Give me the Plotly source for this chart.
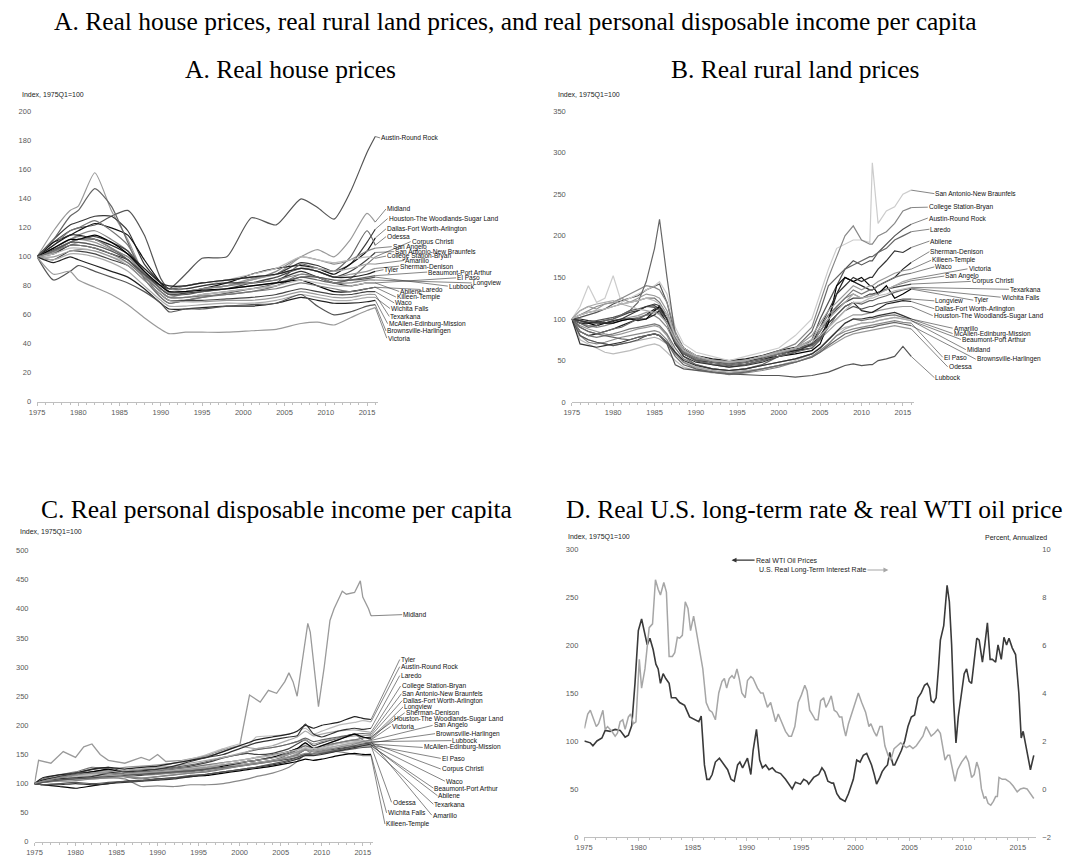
import plotly.graph_objects as go

W, H = 1073, 863

METROS = [
    "Austin-Round Rock", "Midland", "Houston-The Woodlands-Sugar Land",
    "Dallas-Fort Worth-Arlington", "Odessa", "Corpus Christi", "San Angelo",
    "San Antonio-New Braunfels", "College Station-Bryan", "Amarillo",
    "Sherman-Denison", "Tyler", "Beaumont-Port Arthur", "El Paso", "Longview",
    "Lubbock", "Laredo", "Abilene", "Killeen-Temple", "Waco", "Wichita Falls",
    "Texarkana", "McAllen-Edinburg-Mission", "Brownsville-Harlingen", "Victoria",
]

X_TICKS = [1975, 1980, 1985, 1990, 1995, 2000, 2005, 2010, 2015]

# ---------------- Panel A: real house prices (index, 1975Q1=100) ----------------
HOUSE_YEARS = [1975, 1977, 1979, 1980, 1982, 1984, 1986, 1988, 1990, 1991, 1993,
               1995, 1998, 2001, 2004, 2007, 2009, 2011, 2013, 2015, 2016]
HOUSE = {
    "Austin-Round Rock": [100, 110, 118, 120, 122, 128, 132, 115, 85, 78, 88, 99, 100, 127, 122, 140, 134, 126, 145, 172, 183],
    "Midland": [100, 118, 132, 135, 158, 132, 112, 88, 76, 72, 75, 78, 80, 85, 88, 100, 105, 100, 112, 130, 124],
    "Houston-The Woodlands-Sugar Land": [100, 112, 122, 124, 128, 128, 118, 95, 82, 78, 80, 82, 84, 86, 88, 96, 94, 90, 95, 110, 119],
    "Dallas-Fort Worth-Arlington": [100, 110, 115, 118, 123, 120, 115, 98, 82, 76, 76, 78, 82, 88, 92, 94, 92, 88, 95, 104, 113],
    "Odessa": [100, 112, 128, 132, 147, 135, 110, 85, 72, 68, 70, 72, 75, 78, 82, 95, 92, 90, 100, 118, 108],
    "Corpus Christi": [100, 108, 118, 120, 125, 118, 108, 88, 72, 68, 70, 72, 74, 76, 80, 88, 86, 82, 85, 95, 100],
    "San Angelo": [100, 106, 112, 115, 118, 112, 104, 90, 78, 75, 76, 78, 80, 84, 90, 100, 98, 95, 98, 104, 106],
    "San Antonio-New Braunfels": [100, 105, 110, 112, 114, 110, 104, 90, 78, 74, 75, 76, 78, 82, 86, 92, 90, 86, 90, 98, 103],
    "College Station-Bryan": [100, 104, 110, 112, 112, 108, 102, 90, 80, 76, 78, 80, 84, 88, 92, 100, 98, 96, 98, 100, 99],
    "Amarillo": [100, 103, 108, 110, 108, 104, 98, 88, 80, 78, 80, 82, 84, 86, 88, 92, 92, 90, 92, 95, 95],
    "Sherman-Denison": [100, 103, 110, 112, 110, 105, 100, 88, 78, 75, 76, 78, 80, 84, 88, 92, 90, 86, 88, 90, 92],
    "Tyler": [100, 108, 115, 115, 112, 108, 102, 92, 82, 80, 80, 82, 84, 86, 88, 92, 90, 86, 86, 88, 90],
    "Beaumont-Port Arthur": [100, 104, 110, 112, 112, 106, 98, 86, 76, 72, 72, 74, 76, 78, 80, 86, 84, 82, 84, 86, 87],
    "El Paso": [100, 102, 108, 108, 106, 102, 98, 88, 80, 78, 78, 80, 82, 82, 84, 90, 86, 82, 80, 82, 82],
    "Longview": [100, 106, 112, 114, 112, 106, 100, 90, 80, 76, 76, 78, 80, 82, 84, 88, 86, 82, 82, 84, 84],
    "Lubbock": [100, 104, 110, 110, 108, 104, 98, 88, 78, 74, 74, 76, 78, 80, 82, 86, 86, 84, 84, 85, 86],
    "Laredo": [100, 106, 112, 112, 115, 110, 102, 90, 80, 76, 76, 77, 78, 80, 82, 84, 80, 76, 76, 78, 79],
    "Abilene": [100, 102, 106, 106, 104, 100, 96, 86, 76, 72, 72, 74, 76, 78, 80, 84, 82, 80, 80, 82, 82],
    "Killeen-Temple": [100, 104, 108, 108, 106, 102, 96, 86, 76, 72, 72, 73, 74, 76, 78, 82, 80, 78, 76, 78, 79],
    "Waco": [100, 98, 104, 104, 102, 98, 94, 84, 74, 70, 70, 70, 71, 72, 74, 78, 76, 74, 74, 76, 76],
    "Wichita Falls": [100, 98, 102, 102, 100, 96, 90, 80, 70, 66, 66, 67, 68, 68, 70, 74, 72, 70, 70, 72, 72],
    "Texarkana": [100, 100, 104, 105, 104, 100, 94, 84, 74, 70, 69, 69, 70, 70, 72, 76, 74, 72, 72, 74, 74],
    "McAllen-Edinburg-Mission": [100, 96, 100, 98, 94, 90, 86, 78, 68, 64, 64, 65, 66, 66, 68, 72, 70, 68, 68, 69, 70],
    "Brownsville-Harlingen": [100, 84, 90, 94, 90, 86, 82, 76, 68, 62, 64, 64, 66, 67, 68, 74, 66, 60, 62, 66, 67],
    "Victoria": [100, 88, 90, 84, 79, 74, 67, 58, 50, 47, 48, 48, 48, 49, 50, 54, 55, 53, 58, 63, 65],
}

# ---------------- Panel B: real rural land prices (index, 1975Q1=100) ----------------
LAND_YEARS = [1975, 1976, 1977, 1978, 1979, 1980, 1981, 1982, 1983, 1984, 1985, 1985.6,
              1986.5, 1987.5, 1988.5, 1990, 1992, 1994, 1996, 1998, 2000, 2002, 2004,
              2005, 2006, 2007, 2008, 2009, 2010, 2011, 2011.3, 2012, 2013, 2014, 2015, 2016]
LAND = {
    "San Antonio-New Braunfels": [100, 115, 140, 120, 125, 152, 120, 125, 130, 135, 140, 145, 130, 90, 70, 60, 55, 50, 55, 60, 65, 80, 100, 130, 160, 185, 190, 195, 195, 192, 288, 215, 230, 235, 250, 255],
    "College Station-Bryan": [100, 105, 110, 115, 118, 120, 125, 130, 135, 140, 138, 135, 120, 85, 65, 55, 50, 48, 50, 55, 62, 70, 90, 120, 150, 175, 200, 212, 195, 190, 190, 200, 205, 215, 230, 234],
    "Austin-Round Rock": [100, 102, 105, 108, 112, 118, 122, 125, 128, 135, 140, 142, 120, 80, 60, 50, 45, 42, 45, 50, 55, 60, 75, 100, 120, 140, 160, 170, 165, 170, 170, 180, 190, 200, 208, 214],
    "Laredo": [100, 95, 90, 92, 98, 100, 105, 110, 120, 145, 185, 220, 150, 80, 55, 45, 40, 38, 40, 45, 55, 65, 85, 110, 140, 150, 160, 165, 170, 175, 175, 180, 185, 195, 200, 205],
    "Abilene": [100, 98, 96, 95, 95, 98, 100, 105, 110, 115, 118, 116, 100, 70, 55, 48, 45, 42, 44, 48, 55, 60, 70, 90, 110, 130, 140, 150, 145, 150, 150, 160, 170, 182, 180, 186],
    "Sherman-Denison": [100, 100, 98, 97, 95, 97, 100, 100, 98, 100, 105, 110, 95, 70, 58, 50, 48, 45, 48, 52, 58, 62, 65, 75, 100, 130, 150, 145, 140, 135, 135, 140, 145, 150, 160, 168],
    "Killeen-Temple": [100, 110, 115, 112, 118, 120, 125, 120, 125, 130, 128, 125, 110, 80, 62, 55, 50, 48, 50, 55, 58, 65, 80, 95, 110, 120, 130, 140, 135, 140, 140, 145, 150, 155, 158, 160],
    "Waco": [100, 105, 108, 110, 112, 115, 118, 120, 122, 125, 125, 120, 105, 75, 60, 52, 48, 45, 48, 52, 58, 65, 75, 90, 105, 115, 125, 135, 130, 135, 135, 140, 145, 150, 153, 155],
    "Victoria": [100, 110, 115, 118, 120, 122, 118, 115, 112, 110, 108, 105, 95, 75, 62, 55, 50, 48, 50, 55, 60, 65, 75, 90, 100, 110, 120, 130, 125, 128, 128, 130, 135, 140, 145, 148],
    "San Angelo": [100, 95, 92, 90, 92, 95, 98, 100, 102, 105, 104, 100, 90, 70, 58, 52, 48, 46, 48, 52, 58, 62, 70, 85, 100, 115, 125, 130, 125, 128, 128, 132, 135, 140, 143, 146],
    "Corpus Christi": [100, 98, 95, 96, 98, 100, 104, 108, 110, 115, 116, 112, 100, 75, 60, 52, 48, 46, 48, 52, 58, 62, 70, 85, 100, 112, 120, 125, 125, 130, 130, 132, 136, 138, 140, 142],
    "Texarkana": [100, 105, 108, 110, 112, 115, 118, 120, 122, 125, 122, 118, 105, 80, 65, 56, 50, 48, 50, 55, 60, 65, 72, 80, 90, 100, 110, 120, 120, 125, 125, 128, 130, 134, 136, 138],
    "Wichita Falls": [100, 90, 85, 82, 85, 88, 90, 95, 100, 105, 108, 106, 95, 72, 58, 50, 46, 44, 46, 50, 55, 60, 65, 75, 90, 105, 115, 120, 118, 122, 122, 125, 128, 132, 135, 137],
    "Tyler": [100, 95, 95, 92, 95, 95, 98, 100, 100, 100, 110, 115, 100, 80, 65, 55, 50, 48, 50, 52, 55, 58, 62, 70, 95, 140, 150, 145, 150, 140, 140, 130, 140, 125, 130, 136],
    "Longview": [100, 98, 96, 98, 100, 102, 105, 110, 112, 115, 114, 110, 100, 78, 62, 54, 50, 48, 50, 54, 60, 64, 68, 78, 90, 100, 110, 115, 112, 115, 115, 118, 120, 122, 124, 124],
    "Dallas-Fort Worth-Arlington": [100, 85, 80, 82, 85, 88, 92, 96, 100, 105, 112, 115, 105, 80, 65, 56, 52, 50, 52, 56, 62, 66, 70, 80, 95, 105, 115, 120, 110, 108, 108, 112, 118, 120, 122, 121],
    "Houston-The Woodlands-Sugar Land": [100, 95, 92, 92, 95, 98, 100, 102, 104, 108, 110, 108, 95, 72, 60, 52, 48, 46, 48, 52, 58, 62, 68, 76, 85, 95, 100, 105, 105, 108, 108, 110, 112, 114, 115, 115],
    "Amarillo": [100, 85, 80, 78, 80, 82, 85, 88, 90, 92, 94, 92, 82, 65, 52, 45, 40, 38, 40, 44, 48, 52, 58, 65, 75, 85, 95, 100, 98, 100, 100, 102, 104, 105, 102, 100],
    "McAllen-Edinburg-Mission": [100, 70, 68, 66, 68, 70, 72, 75, 78, 80, 82, 80, 72, 60, 50, 44, 40, 38, 40, 44, 48, 52, 58, 65, 75, 85, 95, 100, 100, 102, 102, 104, 106, 108, 104, 100],
    "Beaumont-Port Arthur": [100, 80, 75, 72, 70, 68, 70, 72, 74, 76, 78, 76, 70, 58, 48, 42, 38, 36, 38, 40, 44, 48, 55, 62, 70, 80, 88, 92, 95, 96, 96, 98, 100, 102, 100, 98],
    "Midland": [100, 75, 70, 65, 60, 58, 60, 62, 65, 68, 70, 68, 60, 50, 42, 38, 35, 34, 36, 40, 44, 50, 58, 66, 75, 85, 90, 92, 95, 96, 96, 98, 100, 102, 100, 98],
    "El Paso": [100, 80, 72, 70, 72, 75, 78, 80, 82, 84, 86, 84, 75, 58, 48, 40, 36, 33, 35, 38, 42, 48, 55, 62, 70, 80, 85, 88, 90, 92, 92, 94, 96, 98, 96, 95],
    "Brownsville-Harlingen": [100, 90, 85, 82, 80, 78, 76, 75, 78, 80, 82, 80, 72, 55, 45, 40, 36, 34, 36, 40, 44, 48, 54, 60, 68, 75, 82, 85, 88, 90, 90, 92, 94, 96, 94, 92],
    "Odessa": [100, 92, 88, 85, 82, 80, 82, 85, 88, 90, 92, 90, 80, 60, 48, 42, 38, 35, 37, 40, 44, 48, 54, 60, 66, 72, 78, 82, 84, 86, 86, 88, 90, 92, 90, 88],
    "Lubbock": [100, 80, 75, 72, 70, 68, 70, 72, 75, 80, 82, 80, 70, 45, 40, 38, 36, 34, 33, 32, 32, 30, 32, 34, 36, 40, 44, 46, 44, 45, 45, 50, 52, 55, 67, 55],
}

# ---------------- Panel C: real personal disposable income per capita ----------------
INCOME_YEARS = [1975, 1976, 1978, 1980, 1982, 1984, 1986, 1988, 1990, 1992, 1994, 1996,
                1998, 2000, 2001, 2002, 2004, 2006, 2007, 2008, 2009, 2010, 2012, 2014, 2015, 2016]
INCOME = {
    "Tyler": [100, 110, 115, 118, 125, 128, 125, 128, 130, 135, 140, 145, 155, 165, 170, 175, 180, 185, 190, 200, 195, 200, 205, 215, 212, 210],
    "Austin-Round Rock": [100, 105, 110, 112, 115, 120, 122, 125, 128, 135, 142, 150, 160, 168, 165, 180, 182, 185, 190, 195, 185, 190, 200, 205, 208, 206],
    "Laredo": [100, 105, 108, 110, 112, 118, 120, 122, 125, 130, 138, 145, 150, 160, 165, 170, 175, 180, 182, 202, 185, 180, 190, 195, 193, 195],
    "College Station-Bryan": [100, 104, 108, 112, 115, 118, 122, 125, 128, 130, 135, 140, 145, 152, 155, 160, 165, 175, 180, 190, 182, 185, 190, 192, 190, 188],
    "San Antonio-New Braunfels": [100, 104, 108, 110, 112, 118, 122, 124, 125, 128, 132, 138, 145, 150, 155, 158, 162, 168, 172, 178, 172, 175, 180, 185, 186, 185],
    "Dallas-Fort Worth-Arlington": [100, 106, 110, 115, 118, 124, 128, 130, 132, 135, 140, 148, 158, 165, 162, 160, 162, 168, 172, 175, 168, 172, 178, 182, 183, 182],
    "Longview": [100, 105, 110, 115, 120, 125, 118, 115, 118, 120, 122, 125, 130, 135, 138, 140, 145, 155, 160, 170, 160, 165, 175, 185, 180, 178],
    "Sherman-Denison": [100, 103, 106, 110, 112, 116, 118, 120, 122, 125, 128, 132, 136, 140, 142, 145, 150, 155, 160, 165, 160, 165, 170, 175, 178, 180],
    "Houston-The Woodlands-Sugar Land": [100, 106, 112, 118, 124, 128, 120, 118, 122, 126, 130, 136, 144, 150, 152, 150, 152, 160, 168, 175, 165, 170, 178, 185, 180, 176],
    "Victoria": [100, 104, 110, 115, 118, 118, 112, 110, 112, 115, 118, 122, 126, 130, 132, 134, 138, 145, 150, 158, 150, 155, 162, 168, 172, 175],
    "San Angelo": [100, 103, 106, 110, 112, 115, 116, 118, 120, 122, 125, 128, 132, 136, 138, 140, 145, 150, 155, 160, 158, 160, 165, 170, 172, 174],
    "Brownsville-Harlingen": [100, 98, 100, 102, 100, 102, 104, 105, 108, 110, 114, 116, 120, 124, 126, 128, 134, 140, 145, 150, 150, 152, 158, 165, 168, 170],
    "Lubbock": [100, 104, 108, 110, 112, 115, 116, 118, 120, 122, 126, 130, 135, 140, 142, 145, 148, 155, 158, 162, 160, 162, 168, 172, 172, 172],
    "McAllen-Edinburg-Mission": [100, 98, 98, 100, 98, 100, 102, 104, 106, 108, 112, 116, 120, 124, 126, 128, 132, 138, 142, 148, 148, 150, 156, 162, 165, 168],
    "El Paso": [100, 102, 105, 108, 108, 110, 112, 114, 116, 118, 120, 124, 128, 132, 134, 136, 140, 145, 148, 152, 152, 154, 158, 162, 165, 166],
    "Corpus Christi": [100, 104, 110, 115, 120, 124, 120, 118, 120, 122, 125, 128, 132, 136, 138, 140, 145, 152, 158, 165, 160, 162, 170, 175, 172, 170],
    "Waco": [100, 102, 106, 108, 110, 114, 116, 118, 120, 122, 125, 128, 132, 136, 138, 140, 144, 150, 154, 158, 156, 158, 162, 166, 167, 167],
    "Beaumont-Port Arthur": [100, 106, 112, 118, 120, 122, 118, 116, 118, 120, 122, 125, 128, 132, 134, 136, 140, 146, 150, 158, 155, 156, 160, 164, 165, 165],
    "Abilene": [100, 104, 110, 114, 118, 122, 118, 116, 118, 120, 122, 125, 128, 132, 134, 136, 140, 146, 152, 160, 155, 158, 165, 170, 168, 166],
    "Odessa": [100, 108, 115, 120, 128, 125, 112, 108, 112, 115, 118, 120, 125, 130, 132, 135, 140, 150, 158, 170, 158, 165, 175, 185, 175, 165],
    "Texarkana": [100, 102, 106, 108, 110, 112, 114, 116, 118, 120, 122, 125, 128, 130, 132, 134, 138, 142, 145, 150, 150, 152, 156, 160, 162, 163],
    "Amarillo": [100, 104, 108, 112, 115, 118, 118, 120, 122, 125, 128, 132, 136, 140, 142, 144, 148, 155, 160, 168, 162, 165, 170, 175, 174, 172],
    "Wichita Falls": [100, 98, 95, 92, 96, 100, 104, 105, 108, 110, 112, 114, 118, 122, 124, 126, 130, 135, 138, 142, 140, 142, 148, 152, 150, 150],
    "Killeen-Temple": [100, 102, 104, 105, 108, 110, 108, 95, 96, 95, 98, 98, 100, 105, 108, 112, 118, 128, 138, 150, 152, 155, 155, 150, 148, 148],
}
MIDLAND_INCOME_YEARS = [1975, 1975.5, 1977, 1978.5, 1980, 1981, 1982, 1983, 1984, 1986, 1988,
                        1989, 1990, 1991, 1993, 1995, 1997, 1999, 2000, 2001.2, 2002.5, 2003.5,
                        2004.5, 2005.5, 2006, 2006.5, 2007, 2008.3, 2008.6, 2009.6, 2010.3, 2011,
                        2011.5, 2012.5, 2013, 2014, 2014.7, 2015, 2015.7, 2016]
MIDLAND_INCOME = [100, 140, 135, 155, 145, 163, 168, 150, 140, 135, 145, 140, 150, 138, 140,
                  145, 150, 160, 165, 252, 240, 260, 255, 275, 290, 275, 250, 375, 360, 232,
                  300, 380, 400, 430, 425, 428, 448, 420, 400, 388]

# ---------------- Panel D: real WTI oil price (index) & real long-term rate (%) ----------------
OIL_YEARS = [1975.00, 1975.55, 1975.79, 1976.16, 1976.62, 1976.92, 1977.38, 1977.84, 1978.30, 1978.76,
             1979.06, 1979.37, 1979.67, 1979.98, 1980.28, 1980.59, 1980.80, 1981.05, 1981.35, 1981.60,
             1981.81, 1982.02, 1982.27, 1982.51, 1982.82, 1983.03, 1983.43, 1983.79, 1984.25, 1984.71,
             1985.17, 1985.56, 1985.78, 1986.08, 1986.30, 1986.54, 1986.79, 1987.09, 1987.46, 1987.92,
             1988.22, 1988.53, 1988.83, 1989.14, 1989.35, 1989.60, 1989.90, 1990.05, 1990.36, 1990.57,
             1990.88, 1991.18, 1991.43, 1991.73, 1992.04, 1992.34, 1992.65, 1993.11, 1993.56, 1994.02,
             1994.18, 1994.48, 1994.94, 1995.24, 1995.55, 1995.70, 1996.16, 1996.62, 1996.92, 1997.17,
             1997.47, 1997.84, 1997.99, 1998.30, 1998.60, 1999.06, 1999.37, 1999.82, 2000.13, 2000.44,
             2000.74, 2001.05, 2001.35, 2001.50, 2001.75, 2001.96, 2002.27, 2002.48, 2002.73, 2002.97,
             2003.18, 2003.49, 2003.64, 2003.95, 2004.25, 2004.56, 2004.86, 2005.17, 2005.47, 2005.78,
             2006.08, 2006.39, 2006.63, 2006.85, 2007.00, 2007.24, 2007.46, 2007.67, 2007.85, 2008.16,
             2008.47, 2008.68, 2008.89, 2009.08, 2009.29, 2009.50, 2009.81, 2010.05, 2010.27, 2010.51,
             2010.73, 2010.97, 2011.21, 2011.43, 2011.73, 2011.95, 2012.19, 2012.44, 2012.65, 2012.95,
             2013.17, 2013.47, 2013.72, 2013.96, 2014.18, 2014.48, 2014.79, 2015.09, 2015.31, 2015.49,
             2015.80, 2015.92, 2016.16, 2016.47]
OIL_INDEX = [100, 98, 95, 100, 103, 111, 110, 112, 111, 104,
             106, 116, 160, 215, 227, 210, 200, 207, 195, 180,
             175, 160, 170, 165, 160, 145, 145, 140, 137, 125,
             122, 120, 126, 75, 60, 60, 65, 78, 82, 75,
             70, 60, 58, 75, 78, 72, 78, 82, 65, 90,
             112, 80, 72, 75, 70, 72, 68, 66, 60, 52,
             50, 57, 55, 60, 58, 55, 62, 65, 72, 68,
             58, 56, 56, 45, 40, 37, 45, 60, 80, 78,
             85, 87, 80, 75, 65, 55, 62, 68, 72, 75,
             88, 75, 75, 82, 90, 100, 115, 125, 127, 145,
             150, 158, 160, 155, 142, 140, 145, 175, 205, 220,
             262, 245, 200, 140, 98, 125, 150, 170, 175, 162,
             160, 185, 207, 205, 182, 200, 223, 185, 185, 182,
             200, 185, 208, 200, 207, 197, 190, 150, 103, 110,
             90, 85, 70, 85]

RATE_YEARS = [1975.00, 1975.31, 1975.55, 1975.85, 1976.10, 1976.31, 1976.71, 1976.92, 1977.14, 1977.53,
              1977.84, 1978.05, 1978.30, 1978.54, 1978.76, 1979.06, 1979.27, 1979.52, 1979.76, 1980.07,
              1980.28, 1980.59, 1980.98, 1981.29, 1981.56, 1981.81, 1982.02, 1982.33, 1982.57, 1982.82,
              1983.12, 1983.34, 1983.58, 1983.79, 1984.04, 1984.31, 1984.56, 1984.80, 1985.08, 1985.32,
              1985.63, 1985.93, 1986.24, 1986.54, 1986.79, 1987.09, 1987.40, 1987.70, 1987.92, 1988.13,
              1988.37, 1988.62, 1988.83, 1989.08, 1989.29, 1989.53, 1989.84, 1990.05, 1990.36, 1990.57,
              1990.97, 1991.27, 1991.49, 1991.89, 1992.19, 1992.44, 1992.65, 1992.89, 1993.20, 1993.56,
              1993.87, 1994.11, 1994.42, 1994.73, 1995.03, 1995.34, 1995.55, 1995.79, 1996.01, 1996.31,
              1996.56, 1996.80, 1997.08, 1997.29, 1997.53, 1997.78, 1998.05, 1998.30, 1998.54, 1998.76,
              1998.91, 1999.12, 1999.37, 1999.73, 2000.04, 2000.28, 2000.59, 2000.95, 2001.26, 2001.44,
              2001.72, 2001.96, 2002.27, 2002.48, 2002.73, 2003.03, 2003.27, 2003.58, 2003.89, 2004.19,
              2004.50, 2004.71, 2005.02, 2005.32, 2005.63, 2005.93, 2006.24, 2006.54, 2006.76, 2007.00,
              2007.31, 2007.61, 2007.85, 2008.07, 2008.28, 2008.53, 2008.71, 2008.98, 2009.20, 2009.44,
              2009.81, 2010.21, 2010.45, 2010.73, 2010.97, 2011.21, 2011.43, 2011.64, 2011.89, 2012.04,
              2012.25, 2012.50, 2012.74, 2012.95, 2013.11, 2013.26, 2013.56, 2013.87, 2014.27, 2014.57,
              2014.94, 2015.24, 2015.55, 2015.85, 2016.16, 2016.47]
RATE_PCT = [2.52, 3.12, 3.28, 2.88, 2.60, 2.72, 3.28, 2.48, 2.60, 2.40,
            2.20, 2.32, 2.80, 2.88, 2.48, 3.00, 3.12, 2.72, 2.80, 5.40,
            4.20, 5.00, 6.72, 6.88, 8.72, 8.32, 8.08, 8.60, 8.20, 5.52,
            5.52, 5.68, 6.32, 6.28, 6.40, 7.80, 7.52, 6.60, 7.20, 6.60,
            5.80, 5.00, 3.60, 3.28, 3.20, 2.88, 4.00, 4.48, 4.60, 4.20,
            4.60, 4.72, 4.60, 5.00, 4.60, 4.00, 3.80, 4.52, 4.68, 4.60,
            4.20, 4.00, 4.00, 3.40, 3.60, 3.20, 2.80, 3.12, 2.80, 2.40,
            2.20, 2.20, 2.60, 3.60, 3.92, 4.32, 4.08, 3.28, 3.12, 2.88,
            2.88, 3.68, 3.80, 3.40, 3.60, 3.88, 3.28, 3.20, 3.00, 3.00,
            2.60, 2.20, 2.72, 3.20, 3.60, 4.00, 3.60, 3.20, 2.60, 2.72,
            2.40, 2.20, 2.60, 2.60, 1.80, 1.40, 1.20, 1.68, 1.80, 1.92,
            1.80, 1.72, 1.80, 1.68, 1.80, 2.00, 2.20, 2.60, 2.40, 2.20,
            2.32, 2.48, 2.32, 1.80, 1.20, 1.40, 1.40, 0.80, 0.32, 0.80,
            1.12, 1.36, 1.12, 0.48, 0.60, 1.12, 0.80, 0.00, -0.40, -0.32,
            -0.60, -0.68, -0.52, -0.32, -0.32, 0.48, 0.40, 0.40, 0.28, 0.12,
            -0.12, 0.00, 0.04, 0.00, -0.20, -0.40]

# ---------------- styles (line shades) ----------------
HOUSE_COLORS = {
    "Austin-Round Rock": "#555555", "Midland": "#9a9a9a", "Houston-The Woodlands-Sugar Land": "#3a3a3a",
    "Dallas-Fort Worth-Arlington": "#111111", "Odessa": "#666666", "Corpus Christi": "#777777",
    "San Angelo": "#888888", "San Antonio-New Braunfels": "#444444", "College Station-Bryan": "#bbbbbb",
    "Amarillo": "#aaaaaa", "Sherman-Denison": "#999999", "Tyler": "#222222", "Beaumont-Port Arthur": "#666666",
    "El Paso": "#333333", "Longview": "#888888", "Lubbock": "#555555", "Laredo": "#000000",
    "Abilene": "#bbbbbb", "Killeen-Temple": "#777777", "Waco": "#444444", "Wichita Falls": "#aaaaaa",
    "Texarkana": "#999999", "McAllen-Edinburg-Mission": "#222222", "Brownsville-Harlingen": "#555555",
    "Victoria": "#999999",
}
LAND_COLORS = {
    "San Antonio-New Braunfels": "#cccccc", "College Station-Bryan": "#888888", "Austin-Round Rock": "#555555",
    "Laredo": "#666666", "Abilene": "#333333", "Sherman-Denison": "#222222", "Killeen-Temple": "#999999",
    "Waco": "#777777", "Victoria": "#aaaaaa", "San Angelo": "#888888", "Corpus Christi": "#444444",
    "Texarkana": "#bbbbbb", "Wichita Falls": "#666666", "Tyler": "#000000", "Longview": "#555555",
    "Dallas-Fort Worth-Arlington": "#222222", "Houston-The Woodlands-Sugar Land": "#999999",
    "Amarillo": "#777777", "McAllen-Edinburg-Mission": "#333333", "Beaumont-Port Arthur": "#aaaaaa",
    "Midland": "#bbbbbb", "El Paso": "#888888", "Brownsville-Harlingen": "#666666", "Odessa": "#999999",
    "Lubbock": "#555555",
}
INCOME_COLORS = {
    "Tyler": "#222222", "Austin-Round Rock": "#bbbbbb", "Laredo": "#333333", "College Station-Bryan": "#aaaaaa",
    "San Antonio-New Braunfels": "#666666", "Dallas-Fort Worth-Arlington": "#999999", "Longview": "#000000",
    "Sherman-Denison": "#777777", "Houston-The Woodlands-Sugar Land": "#444444", "Victoria": "#888888",
    "San Angelo": "#aaaaaa", "Brownsville-Harlingen": "#555555", "Lubbock": "#bbbbbb",
    "McAllen-Edinburg-Mission": "#333333", "El Paso": "#888888", "Corpus Christi": "#666666",
    "Waco": "#999999", "Beaumont-Port Arthur": "#444444", "Abilene": "#aaaaaa", "Odessa": "#777777",
    "Texarkana": "#555555", "Amarillo": "#bbbbbb", "Wichita Falls": "#000000", "Killeen-Temple": "#888888",
}

# label placement (x in years, y in axis units) for the end-of-line labels
HOUSE_LABELS = {
    "Austin-Round Rock": (2016.6, 182), "Midland": (2017.3, 133), "Houston-The Woodlands-Sugar Land": (2017.5, 126.4),
    "Dallas-Fort Worth-Arlington": (2017.3, 119.3), "Odessa": (2017.3, 113.9), "Corpus Christi": (2020.3, 110.5),
    "San Angelo": (2018.0, 107), "San Antonio-New Braunfels": (2018.3, 103.6), "College Station-Bryan": (2017.3, 100.5),
    "Amarillo": (2019.5, 97.5), "Sherman-Denison": (2018.9, 93.6), "Tyler": (2017.0, 91.1),
    "Beaumont-Port Arthur": (2022.3, 89.5), "El Paso": (2025.8, 85.5), "Longview": (2027.7, 82),
    "Lubbock": (2024.8, 79.8), "Laredo": (2021.5, 77.5), "Abilene": (2018.9, 76.1),
    "Killeen-Temple": (2018.5, 72.3), "Waco": (2018.3, 68.2), "Wichita Falls": (2017.8, 64.3),
    "Texarkana": (2017.7, 58.9), "McAllen-Edinburg-Mission": (2017.5, 53.9), "Brownsville-Harlingen": (2017.3, 48.9),
    "Victoria": (2017.4, 43.9),
}
LAND_LABELS = {
    "San Antonio-New Braunfels": (2018.8, 250.8), "College Station-Bryan": (2018.0, 234.5), "Austin-Round Rock": (2018.0, 221.4),
    "Laredo": (2018.2, 208), "Abilene": (2018.2, 193.7), "Sherman-Denison": (2018.2, 181), "Killeen-Temple": (2018.4, 170.6),
    "Waco": (2018.8, 162.7), "Victoria": (2022.8, 160.3), "San Angelo": (2020.0, 151.6), "Corpus Christi": (2023.2, 145.2),
    "Texarkana": (2027.8, 135.7), "Wichita Falls": (2026.8, 126.2), "Tyler": (2023.5, 122.6), "Longview": (2018.8, 121.8),
    "Dallas-Fort Worth-Arlington": (2018.8, 112.3), "Houston-The Woodlands-Sugar Land": (2018.6, 104),
    "Amarillo": (2021.0, 88.9), "McAllen-Edinburg-Mission": (2021.0, 82.5), "Beaumont-Port Arthur": (2022.0, 75.4),
    "Midland": (2022.6, 63.1), "El Paso": (2019.8, 54), "Brownsville-Harlingen": (2023.8, 51.6), "Odessa": (2020.4, 42.5),
    "Lubbock": (2018.8, 29.4),
}
INCOME_LABELS = {
    "Midland": (2019.8, 390), "Tyler": (2019.5, 313), "Austin-Round Rock": (2019.5, 300.7), "Laredo": (2019.5, 285.4),
    "College Station-Bryan": (2019.6, 267.3), "San Antonio-New Braunfels": (2019.7, 254.2),
    "Dallas-Fort Worth-Arlington": (2019.8, 242.4), "Longview": (2019.9, 231.6), "Sherman-Denison": (2020.1, 221.4),
    "Houston-The Woodlands-Sugar Land": (2018.7, 211.2), "Victoria": (2018.4, 198.2), "San Angelo": (2023.5, 199.9),
    "Brownsville-Harlingen": (2023.8, 185.7), "Lubbock": (2025.8, 173.8), "McAllen-Edinburg-Mission": (2022.3, 162),
    "El Paso": (2024.5, 143.3), "Corpus Christi": (2024.5, 125.1), "Waco": (2025.0, 104.2),
    "Beaumont-Port Arthur": (2023.6, 92.3), "Abilene": (2024.1, 79.3), "Odessa": (2018.5, 68),
    "Texarkana": (2023.6, 64.6), "Amarillo": (2023.4, 45.9), "Wichita Falls": (2017.9, 49.8),
    "Killeen-Temple": (2017.7, 30.6),
}

SANS = "Liberation Sans"
SERIF = "Liberation Serif"
TICK_FONT = dict(family=SANS, size=7.5, color="#595959")
LABEL_FONT = dict(family=SANS, size=6.6, color="#111111")


def px_x(p):
    return p / W


def px_y(p):
    return 1 - p / H


fig = go.Figure()

# Panel A
for name in METROS:
    fig.add_trace(go.Scatter(x=HOUSE_YEARS, y=HOUSE[name], mode="lines", name=name,
                             line=dict(color=HOUSE_COLORS[name], width=1.2, shape="spline", smoothing=0.6),
                             xaxis="x", yaxis="y", showlegend=False))
# Panel B
for name in METROS:
    fig.add_trace(go.Scatter(x=LAND_YEARS, y=LAND[name], mode="lines", name=name,
                             line=dict(color=LAND_COLORS[name], width=1.2),
                             xaxis="x2", yaxis="y2", showlegend=False))
# Panel C
fig.add_trace(go.Scatter(x=MIDLAND_INCOME_YEARS, y=MIDLAND_INCOME, mode="lines", name="Midland",
                         line=dict(color="#9a9a9a", width=1.3), xaxis="x3", yaxis="y3", showlegend=False))
for name in METROS:
    if name == "Midland":
        continue
    fig.add_trace(go.Scatter(x=INCOME_YEARS, y=INCOME[name], mode="lines", name=name,
                             line=dict(color=INCOME_COLORS[name], width=1.2, shape="spline", smoothing=0.5),
                             xaxis="x3", yaxis="y3", showlegend=False))
# Panel D
fig.add_trace(go.Scatter(x=RATE_YEARS, y=RATE_PCT, mode="lines", name="U.S. Real Long-Term Interest Rate",
                         line=dict(color="#a6a6a6", width=1.5), xaxis="x4", yaxis="y5", showlegend=False))
fig.add_trace(go.Scatter(x=OIL_YEARS, y=OIL_INDEX, mode="lines", name="Real WTI Oil Prices",
                         line=dict(color="#3a3a3a", width=1.6), xaxis="x4", yaxis="y4", showlegend=False))

ann = []


def end_labels(xr, yr, labels, getter):
    for name, (lx, ly) in labels.items():
        xs, ys = getter(name)
        ann.append(dict(x=xs[-1], y=ys[-1], xref=xr, yref=yr, axref=xr, ayref=yr, ax=lx, ay=ly,
                        text=name, showarrow=True, arrowhead=0, arrowwidth=0.6, arrowcolor="#333333",
                        xanchor="left", yanchor="middle", font=LABEL_FONT, borderpad=0))


end_labels("x", "y", HOUSE_LABELS, lambda n: (HOUSE_YEARS, HOUSE[n]))
end_labels("x2", "y2", LAND_LABELS, lambda n: (LAND_YEARS, LAND[n]))
end_labels("x3", "y3", INCOME_LABELS,
           lambda n: (MIDLAND_INCOME_YEARS, MIDLAND_INCOME) if n == "Midland" else (INCOME_YEARS, INCOME[n]))

# titles
TITLE_FONT = dict(family=SERIF, size=25.5, color="#000")
for t, cx, cy in [("A. Real house prices, real rural land prices, and real personal disposable income per capita", 511, 18),
                  ("A. Real house prices", 285, 66), ("B. Real rural land prices", 793, 66),
                  ("C. Real personal disposable income per capita", 271, 511),
                  ("D. Real U.S. long-term rate &amp; real WTI oil price", 813, 511)]:
    ann.append(dict(text=t, x=px_x(cx), y=px_y(cy), xref="paper", yref="paper", showarrow=False,
                    xanchor="center", yanchor="middle", font=TITLE_FONT))

UNIT_FONT = dict(family=SANS, size=7, color="#222")
for t, lx, ly, anc in [("Index, 1975Q1=100", 12, 92, "left"), ("Index, 1975Q1=100", 552, 92, "left"),
                       ("Index, 1975Q1=100", 10, 534, "left"), ("Index, 1975Q1=100", 562, 539, "left"),
                       ("Percent, Annualized", 1049, 539, "right")]:
    ann.append(dict(text=t, x=px_x(lx), y=px_y(ly), xref="paper", yref="paper", showarrow=False,
                    xanchor=anc, yanchor="middle", font=UNIT_FONT))

# panel D legend with arrows
ann.append(dict(text="Real WTI Oil Prices", x=px_x(729), y=px_y(562), xref="paper", yref="paper",
                ax=23, ay=0, showarrow=True, arrowhead=2, arrowsize=0.9, arrowwidth=1.1, arrowcolor="#333333",
                xanchor="left", yanchor="middle", font=dict(family=SANS, size=7, color="#222"), borderpad=0))
ann.append(dict(text="U.S. Real Long-Term Interest Rate", x=px_x(887), y=px_y(572), xref="paper", yref="paper",
                ax=-21, ay=0, showarrow=True, arrowhead=2, arrowsize=0.9, arrowwidth=1.1, arrowcolor="#a6a6a6",
                xanchor="right", yanchor="middle", font=dict(family=SANS, size=7, color="#222"), borderpad=0))


def xaxis(domain, rng, anchor):
    return dict(domain=domain, range=rng, anchor=anchor, tickvals=X_TICKS, ticks="outside", ticklen=3,
                tickcolor="#bfbfbf", showline=True, linecolor="#bfbfbf", linewidth=1, showgrid=False,
                zeroline=False, tickfont=TICK_FONT,
                minor=dict(dtick=1, tick0=1975, ticks="outside", ticklen=2, tickcolor="#bfbfbf", showgrid=False))


def yaxis(domain, rng, dtick, anchor, **kw):
    d = dict(domain=domain, range=rng, dtick=dtick, anchor=anchor, showgrid=False, zeroline=False,
             showline=False, ticks="", tickfont=TICK_FONT, ticklabelstandoff=5)
    d.update(kw)
    return d


fig.update_layout(
    width=W, height=H, margin=dict(l=0, r=0, t=0, b=0),
    paper_bgcolor="white", plot_bgcolor="white", showlegend=False,
    xaxis=xaxis([px_x(29.3), px_x(372.5)], [1975, 2016.3], "y"),
    yaxis=yaxis([px_y(402), px_y(109)], [0, 200], 20, "x"),
    xaxis2=xaxis([px_x(568), px_x(912.5)], [1975, 2016.3], "y2"),
    yaxis2=yaxis([px_y(402.3), px_y(108.3)], [0, 350], 50, "x2"),
    xaxis3=xaxis([px_x(26.7), px_x(368.2)], [1975, 2016.3], "y3"),
    yaxis3=yaxis([px_y(846.7), px_y(552.3)], [0, 500], 50, "x3"),
    xaxis4=xaxis([px_x(580.7), px_x(1036)], [1975, 2016.7], "y4"),
    yaxis4=yaxis([px_y(841.7), px_y(550.7)], [0, 300], 50, "x4"),
    yaxis5=yaxis([px_y(841.7), px_y(550.7)], [-2, 10], 2, "x4", overlaying="y4", side="right"),
    annotations=ann,
)

fig.write_html("out.html")
